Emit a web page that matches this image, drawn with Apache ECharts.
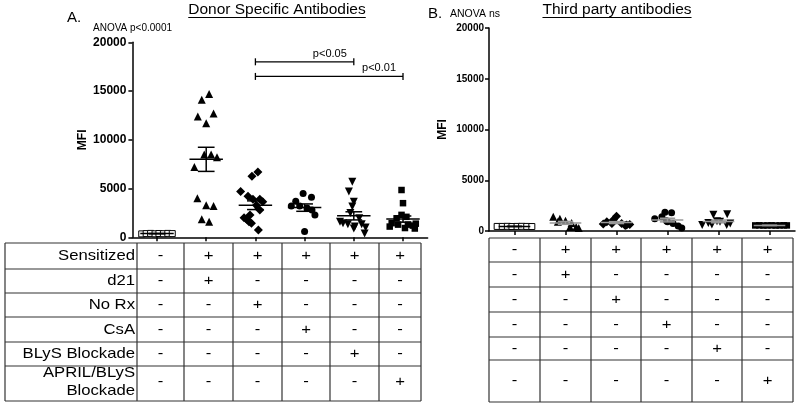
<!DOCTYPE html>
<html><head><meta charset="utf-8">
<script src="https://cdn.jsdelivr.net/npm/echarts@6/dist/echarts.min.js"></script>
<style>html,body{margin:0;padding:0;background:#fff}#c{width:800px;height:406px}</style>
</head><body><div id="c"></div>
<script>
// ---------------- DATA ----------------
const categories = ['Naive', 'd21', 'No Rx', 'CsA', 'BLyS Blockade', 'APRIL/BLyS Blockade'];
const yMin = 0, yMax = 20000, yStep = 5000;

// Panel A: donor specific antibodies (MFI), one list per group
const dsaValues = [
  [350, 380, 400, 360, 390, 370, 400, 380],
  [14700, 14100, 12400, 12700, 11700, 8500, 8500, 8200, 7200, 4000, 3300, 3200, 1850, 1600],
  [6700, 6250, 4700, 4200, 3900, 3900, 3650, 3300, 2800, 2300, 2000, 1850, 1600, 1450, 750],
  [4500, 4100, 3700, 3200, 3200, 3000, 2800, 2300, 600],
  [5700, 4700, 3650, 3150, 2500, 1950, 1600, 1450, 1350, 1350, 1100, 1000, 900, 400],
  [4850, 3500, 2300, 2100, 1950, 1450, 1300, 1300, 1100, 1200, 1400, 950, 900]
];
// horizontal scatter (jitter) of each point, in category units
const dsaOffsets = [
  [-0.31, -0.22, -0.13, -0.04, 0.04, 0.13, 0.22, 0.31],
  [0.06, -0.09, -0.17, 0.15, 0, -0.04, 0.10, 0.22, -0.24, -0.18, 0, 0.15, -0.09, 0.06],
  [0.05, -0.07, -0.30, -0.15, -0.05, 0.09, 0.15, 0.02, 0.09, -0.11, -0.23, -0.18, -0.13, -0.08, 0.06],
  [-0.03, 0.14, -0.18, -0.27, -0.10, 0.05, 0.15, 0.21, 0],
  [-0.03, -0.10, 0, -0.03, -0.07, 0.11, -0.28, -0.22, -0.12, 0.16, 0.02, 0.24, 0, 0.22],
  [-0.03, 0, -0.03, 0.07, -0.13, -0.23, -0.10, 0.10, -0.27, 0.20, 0.26, 0.04, 0.24]
];

// Panel B: third party antibodies (MFI)
const thirdValues = [
  [450, 450, 460, 440, 450, 460, 450, 440],
  [1400, 1200, 1000, 900, 800, 400, 400, 300],
  [1450, 1100, 900, 750, 750, 700, 650, 600, 550],
  [1850, 1800, 1400, 1200, 1000, 900, 750, 500, 300],
  [1600, 1650, 950, 900, 800, 750, 650, 600, 600],
  [550, 560, 540, 550, 560, 540, 550, 560, 550]
];
const thirdOffsets = [
  [-0.34, -0.24, -0.14, -0.05, 0.05, 0.14, 0.24, 0.34],
  [-0.24, -0.11, 0, -0.15, 0.12, 0.09, 0.21, 0.26],
  [0, -0.06, -0.19, -0.09, 0.10, -0.26, 0.26, 0.20, 0.17],
  [-0.05, 0.08, -0.11, -0.25, -0.02, 0, 0.11, 0.21, 0.28],
  [-0.10, 0.17, -0.03, 0.03, -0.20, 0.23, -0.13, 0.16, -0.32],
  [-0.28, -0.20, -0.12, -0.04, 0.04, 0.12, 0.20, 0.28, 0.34]
];

const comparisonFrom = [2, 2];
const comparisonTo = [4, 5];
const comparisonLevel = [18000, 16500];
const comparisonLabels = ['p<0.05', 'p<0.01'];

const panelTitles = ['Donor Specific Antibodies', 'Third party antibodies'];
const panelLetters = ['A.', 'B.'];
const anovaLabels = ['ANOVA p<0.0001', 'ANOVA ns'];
const yAxisName = 'MFI';

const tableRowLabels = ['Sensitized', 'd21', 'No Rx', 'CsA', 'BLyS Blockade', 'APRIL/BLyS\nBlockade'];
const tableSigns = [
  ['-', '+', '+', '+', '+', '+'],
  ['-', '+', '-', '-', '-', '-'],
  ['-', '-', '+', '-', '-', '-'],
  ['-', '-', '-', '+', '-', '-'],
  ['-', '-', '-', '-', '+', '-'],
  ['-', '-', '-', '-', '-', '+']
];

// ---------------- LAYOUT / STYLE ----------------
const FONT = '"Liberation Sans", Arial, Helvetica, sans-serif';
const LINE = '#333';
const tableA = { x0: 5, cols: [137, 184, 233, 282, 330, 379, 421], rows: [243, 269, 293, 317, 342, 366, 401] };
const tableB = { cols: [489, 540, 591, 641, 692, 742, 793], rows: [238, 262, 287, 312, 337, 360, 402] };
const symbolDefs = [
  { symbol: 'rect', size: 6, rotate: 0, color: '#fff', border: '#000' },
  { symbol: 'triangle', size: 8, rotate: 0, color: '#000' },
  { symbol: 'diamond', size: 9, rotate: 0, color: '#000' },
  { symbol: 'circle', size: 7, rotate: 0, color: '#000' },
  { symbol: 'triangle', size: 8, rotate: 180, color: '#000' },
  { symbol: 'rect', size: 6.5, rotate: 0, color: '#000' }
];
const catTicks = categories.map((_, i) => i);

function stats(arr) {
  const n = arr.length;
  const m = arr.reduce((a, b) => a + b, 0) / n;
  const sd = Math.sqrt(arr.reduce((a, b) => a + (b - m) * (b - m), 0) / (n - 1));
  return [m, sd / Math.sqrt(n)];
}

const chart = echarts.init(document.getElementById('c'), null, { renderer: 'canvas' });

function makeAxes(gridIndex, labelSize, labelMargin, nameGap) {
  return {
    x: {
      type: 'value', gridIndex, min: -0.5, max: 5.5,
      axisLine: { show: true, onZero: false, lineStyle: { color: '#000', width: 1.5 } },
      axisTick: { show: true, customValues: catTicks, length: 4, lineStyle: { color: '#000', width: 1.5 } },
      axisLabel: { show: false }, splitLine: { show: false }
    },
    y: {
      type: 'value', gridIndex, min: yMin, max: yMax, interval: yStep,
      name: yAxisName, nameLocation: 'middle', nameGap,
      nameTextStyle: { color: '#000', fontWeight: 'bold', fontSize: 12, fontFamily: FONT },
      axisLine: { show: true, onZero: false, lineStyle: { color: '#000', width: 1.5 } },
      axisTick: { show: true, length: 4, lineStyle: { color: '#000', width: 1.5 } },
      axisLabel: { color: '#000', fontWeight: 'bold', fontSize: labelSize, fontFamily: FONT, margin: labelMargin,
        formatter: v => String(v) },
      splitLine: { show: false }
    }
  };
}
const axA = makeAxes(0, 12, 6, 40);
const axB = makeAxes(1, 10, 5, 40);

const series = [];
function addPanel(values, offsets, axisIndex, meanColors, halfW, capW) {
  values.forEach((vals, g) => {
    const s = symbolDefs[g];
    series.push({
      type: 'scatter', xAxisIndex: axisIndex, yAxisIndex: axisIndex,
      data: vals.map((v, k) => [g + offsets[g][k], v]),
      symbol: s.symbol, symbolSize: s.size, symbolRotate: s.rotate,
      itemStyle: { color: s.color, borderColor: s.border || s.color, borderWidth: s.border ? 1 : 0, opacity: 1 },
      emphasis: { disabled: true }, silent: true, z: 2
    });
  });
  series.push({
    type: 'custom', xAxisIndex: axisIndex, yAxisIndex: axisIndex, silent: true, z: 5,
    data: values.map((vals, g) => { const st = stats(vals); return [g, st[0], st[1]]; }),
    encode: { x: 0, y: 1 },
    renderItem: function (params, api) {
      const x = api.value(0), m = api.value(1), s = api.value(2);
      const col = meanColors[params.dataIndex];
      const l = api.coord([x - halfW, m]), r = api.coord([x + halfW, m]);
      const t = api.coord([x, m + s]), b = api.coord([x, m - s]);
      const tl = api.coord([x - capW, m + s]), tr = api.coord([x + capW, m + s]);
      const bl = api.coord([x - capW, m - s]), br = api.coord([x + capW, m - s]);
      const st = { stroke: col, lineWidth: 1.5 };
      return {
        type: 'group', children: [
          { type: 'line', shape: { x1: l[0], y1: l[1], x2: r[0], y2: r[1] }, style: st },
          { type: 'line', shape: { x1: t[0], y1: t[1], x2: b[0], y2: b[1] }, style: st },
          { type: 'line', shape: { x1: tl[0], y1: tl[1], x2: tr[0], y2: tr[1] }, style: st },
          { type: 'line', shape: { x1: bl[0], y1: bl[1], x2: br[0], y2: br[1] }, style: st }
        ]
      };
    }
  });
}
addPanel(dsaValues, dsaOffsets, 0, ['#000', '#000', '#000', '#000', '#000', '#000'], 0.34, 0.17);
addPanel(thirdValues, thirdOffsets, 1, ['#000', '#999', '#999', '#999', '#999', '#999'], 0.31, 0.15);

// significance brackets (panel A)
series.push({
  type: 'custom', xAxisIndex: 0, yAxisIndex: 0, silent: true, z: 5,
  data: comparisonFrom.map((f, i) => [f, comparisonLevel[i], comparisonTo[i]]),
  encode: { x: 0, y: 1 },
  renderItem: function (params, api) {
    const a = api.coord([api.value(0), api.value(1)]);
    const b = api.coord([api.value(2), api.value(1)]);
    const st = { stroke: '#000', lineWidth: 1.3 };
    return {
      type: 'group', children: [
        { type: 'line', shape: { x1: a[0], y1: a[1], x2: b[0], y2: b[1] }, style: st },
        { type: 'line', shape: { x1: a[0], y1: a[1] - 3.5, x2: a[0], y2: a[1] + 3.5 }, style: st },
        { type: 'line', shape: { x1: b[0], y1: b[1] - 3.5, x2: b[0], y2: b[1] + 3.5 }, style: st },
        { type: 'text', style: { text: comparisonLabels[params.dataIndex], x: b[0] - 7, y: b[1] - 8,
          align: 'right', verticalAlign: 'middle', textAlign: 'right', textVerticalAlign: 'middle',
          fill: '#000', font: '11px ' + FONT } }
      ]
    };
  }
});

// ---------------- GRAPHICS: titles, labels, tables ----------------
const ctx = document.createElement('canvas').getContext('2d');
function textW(str, font) { ctx.font = font; return ctx.measureText(str).width; }
const G = [];
function T(x, y, text, font, align, sx) {
  G.push({ type: 'text', x, y, scaleX: sx || 1, silent: true, style: { text, font, fill: '#000', align: align || 'left', textAlign: align || 'left',
    verticalAlign: 'middle', textVerticalAlign: 'middle', lineHeight: 18 } });
}
function Ln(x1, y1, x2, y2, w, c) {
  G.push({ type: 'line', silent: true, shape: { x1, y1, x2, y2 }, style: { stroke: c || LINE, lineWidth: w || 1.2 } });
}
const titleFont = '15.5px ' + FONT;
[[277, panelTitles[0]], [617, panelTitles[1]]].forEach(([cx, t]) => {
  T(cx, 10, t, titleFont, 'center');
  const w = textW(t, titleFont);
  Ln(cx - w / 2, 17.5, cx + w / 2, 17.5, 1.2, '#000');
});
T(67, 18, panelLetters[0], '15px ' + FONT, 'left');
T(428, 14, panelLetters[1], '15px ' + FONT, 'left');
T(93, 28.5, anovaLabels[0], '10px ' + FONT, 'left');
T(450, 14, anovaLabels[1], '10.5px ' + FONT, 'left');

// table A
const cellFont = '14.5px ' + FONT;
tableA.rows.forEach(y => Ln(tableA.x0, y, tableA.cols[6], y));
Ln(tableA.x0, tableA.rows[0], tableA.x0, tableA.rows[6]);
tableA.cols.forEach(x => Ln(x, tableA.rows[0], x, tableA.rows[6]));
tableRowLabels.forEach((lab, r) => {
  const yc = (tableA.rows[r] + tableA.rows[r + 1]) / 2 - (r === 5 ? 2 : 0);
  T(tableA.cols[0] - 2, yc, lab, cellFont, 'right', 1.15);
  tableSigns[r].forEach((s, c) => T((tableA.cols[c] + tableA.cols[c + 1]) / 2, yc, s, cellFont, 'center', 1.15));
});
// table B
tableB.rows.forEach(y => Ln(tableB.cols[0], y, tableB.cols[6], y));
tableB.cols.forEach(x => Ln(x, tableB.rows[0], x, tableB.rows[6]));
tableSigns.forEach((row, r) => {
  const yc = (tableB.rows[r] + tableB.rows[r + 1]) / 2;
  row.forEach((s, c) => T((tableB.cols[c] + tableB.cols[c + 1]) / 2, yc, s, cellFont, 'center', 1.15));
});

chart.setOption({
  animation: false,
  backgroundColor: '#fff',
  grid: [
    { left: 132.4, top: 42.3, width: 295.2, height: 195, outerBoundsMode: 'none' },
    { left: 489, top: 28, width: 306, height: 203, outerBoundsMode: 'none' }
  ],
  xAxis: [axA.x, axB.x],
  yAxis: [axA.y, axB.y],
  series,
  graphic: { elements: G }
});
</script></body></html>
